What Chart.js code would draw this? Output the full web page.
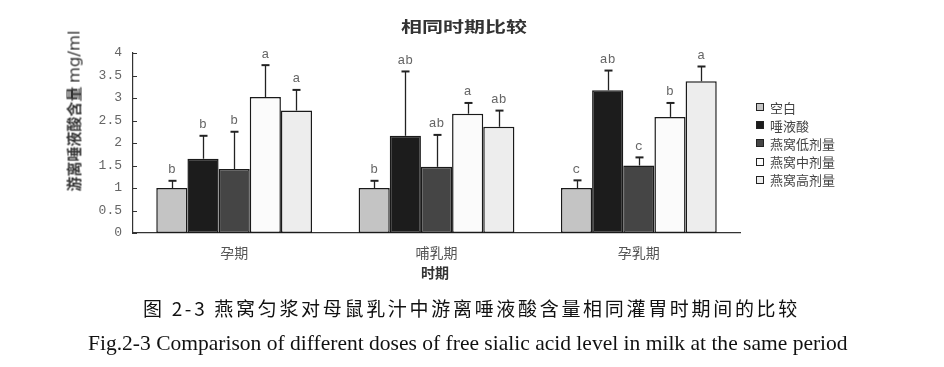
<!DOCTYPE html>
<html><head><meta charset="utf-8">
<script src="https://cdn.jsdelivr.net/npm/chart.js@4"></script>
<style>
html,body{margin:0;padding:0;background:#fff;}
#wrap{position:relative;width:944px;height:367px;overflow:hidden;}
canvas{position:absolute;left:0;top:0;}
.t{position:absolute;white-space:nowrap;color:#222;}
#title{left:464px;top:25px;font:bold 15px "Noto Sans CJK SC";transform:translate(-50%,-50%) scaleX(1.4);color:#333;}
#xtitle{left:435px;top:272px;font:bold 14px "Noto Sans CJK SC";transform:translate(-50%,-50%);color:#333;}
#ytitle{left:73px;top:111px;font:bold 15px "Noto Sans CJK SC";transform:translate(-50%,-50%) rotate(-90deg);color:#333;}
#ytitle span{font:16.5px "DejaVu Sans";font-weight:normal;}
#legend{position:absolute;left:756px;top:98px;}
.li{height:18.2px;display:flex;align-items:center;font:13px "Noto Sans CJK SC";color:#444;}
.sw{width:8px;height:8px;border:1px solid #222;margin-right:6px;box-sizing:border-box;}
#cap1{left:143px;top:307px;font:19px "Noto Sans CJK SC";transform:translate(0,-50%);color:#111;}
#cap2{left:88px;top:343px;font:21px "Liberation Serif";transform:translate(0,-50%);color:#111;}
</style></head>
<body><div id="wrap">
<canvas id="c" width="944" height="367"></canvas>
<div class="t" id="title"></div>
<div class="t" id="xtitle"></div>
<div class="t" id="ytitle"></div>
<div id="legend"></div>
<div class="t" id="cap1"></div>
<div class="t" id="cap2"></div>
</div>
<script>
// ---- data ----
const chartTitle = '相同时期比较';
const xAxisTitle = '时期';
const yAxisTitle = '游离唾液酸含量';
const yAxisUnit = 'mg/ml';
const caption1 = '图 2-3 燕窝匀浆对母鼠乳汁中游离唾液酸含量相同灌胃时期间的比较';
const caption2 = 'Fig.2-3 Comparison of different doses of free sialic acid level in milk at the same period';
const categories = ['孕期', '哺乳期', '孕乳期'];
const seriesNames = ['空白', '唾液酸', '燕窝低剂量', '燕窝中剂量', '燕窝高剂量'];
const blankValues = [1.00, 1.00, 1.00];
const blankErrors = [0.16, 0.16, 0.17];
const blankLetters = ['b', 'b', 'c'];
const sialicValues = [1.65, 2.16, 3.17];
const sialicErrors = [0.51, 1.43, 0.44];
const sialicLetters = ['b', 'ab', 'ab'];
const lowValues = [1.42, 1.47, 1.50];
const lowErrors = [0.83, 0.71, 0.18];
const lowLetters = ['b', 'ab', 'c'];
const midValues = [3.02, 2.65, 2.58];
const midErrors = [0.71, 0.24, 0.31];
const midLetters = ['a', 'a', 'b'];
const highValues = [2.72, 2.36, 3.37];
const highErrors = [0.46, 0.36, 0.33];
const highLetters = ['a', 'ab', 'a'];
const yTickValues = [0, 0.5, 1, 1.5, 2, 2.5, 3, 3.5, 4];
const yTickLabels = ['0', '0.5', '1', '1.5', '2', '2.5', '3', '3.5', '4'];

const seriesColors = ['#c4c4c4', '#1c1c1c', '#454545', '#fbfbfb', '#ededed'];
const allValues = [blankValues, sialicValues, lowValues, midValues, highValues];
const allErrors = [blankErrors, sialicErrors, lowErrors, midErrors, highErrors];
const allLetters = [blankLetters, sialicLetters, lowLetters, midLetters, highLetters];

document.getElementById('title').textContent = chartTitle;
document.getElementById('xtitle').textContent = xAxisTitle;
document.getElementById('ytitle').innerHTML = yAxisTitle + ' <span>' + yAxisUnit + '</span>';
const c1 = document.getElementById('cap1'), c2 = document.getElementById('cap2');
c1.textContent = caption1; c2.textContent = caption2;
(function fit() {
  const w1 = c1.getBoundingClientRect().width;
  c1.style.letterSpacing = ((657 - w1) / caption1.length) + 'px';
  const w2 = c2.getBoundingClientRect().width;
  c2.style.fontSize = (21 * 760 / w2) + 'px';
})();
const lg = document.getElementById('legend');
seriesNames.forEach((n, i) => {
  const d = document.createElement('div'); d.className = 'li';
  const s = document.createElement('div'); s.className = 'sw'; s.style.background = seriesColors[i];
  d.appendChild(s); d.appendChild(document.createTextNode(n)); lg.appendChild(d);
});

const errPlugin = {
  id: 'errbars',
  afterDatasetsDraw(chart) {
    const ctx = chart.ctx, y = chart.scales.y;
    ctx.save();
    ctx.strokeStyle = '#333'; ctx.lineWidth = 1;
    yTickValues.forEach(v => {
      const py = Math.round(y.getPixelForValue(v)) + 0.5;
      ctx.beginPath(); ctx.moveTo(chart.chartArea.left, py); ctx.lineTo(chart.chartArea.left + 4, py); ctx.stroke();
    });
    chart.data.datasets.forEach((ds, di) => {
      const meta = chart.getDatasetMeta(di);
      meta.data.forEach((bar, i) => {
        const top = y.getPixelForValue(ds.data[i] + allErrors[di][i]);
        const x = Math.round(bar.x) + 0.5;
        ctx.strokeStyle = '#222'; ctx.lineWidth = 1.3;
        ctx.beginPath(); ctx.moveTo(x, bar.y); ctx.lineTo(x, top); ctx.stroke();
        ctx.lineWidth = 2;
        ctx.beginPath(); ctx.moveTo(x - 4, top); ctx.lineTo(x + 4, top); ctx.stroke();
        ctx.fillStyle = '#666'; ctx.font = '13px "Liberation Mono"';
        ctx.textAlign = 'center'; ctx.textBaseline = 'middle';
        ctx.fillText(allLetters[di][i], bar.x, top - 11);
      });
    });
    ctx.restore();
  }
};

new Chart(document.getElementById('c'), {
  type: 'bar',
  data: {
    labels: categories,
    datasets: seriesNames.map((n, i) => ({
      label: n, data: allValues[i], backgroundColor: seriesColors[i],
      borderColor: '#1a1a1a', borderWidth: 1.5, borderSkipped: false,
      barPercentage: 1.0, categoryPercentage: 0.77
    }))
  },
  options: {
    responsive: false, animation: false,
    layout: { padding: { left: 0, right: 204, top: 53, bottom: 0 } },
    plugins: { legend: { display: false }, tooltip: { enabled: false }, title: { display: false } },
    scales: {
      x: {
        grid: { display: false, drawTicks: false },
        border: { color: '#333', width: 1.2 },
        ticks: { color: '#555', font: { family: 'Noto Sans CJK SC', size: 14 }, padding: 11 },
        afterFit(s) { s.height = 134; }
      },
      y: {
        min: 0, max: 4,
        afterBuildTicks(s) { s.ticks = yTickValues.map(v => ({ value: v })); },
        grid: { display: false, drawTicks: false },
        border: { color: '#333', width: 1.2 },
        ticks: { color: '#666', font: { family: 'Liberation Mono', size: 13 }, padding: 11,
          callback: (v, i) => yTickLabels[i] },
        afterFit(s) { s.width = 133; }
      }
    }
  },
  plugins: [errPlugin]
});
</script>
</body></html>
